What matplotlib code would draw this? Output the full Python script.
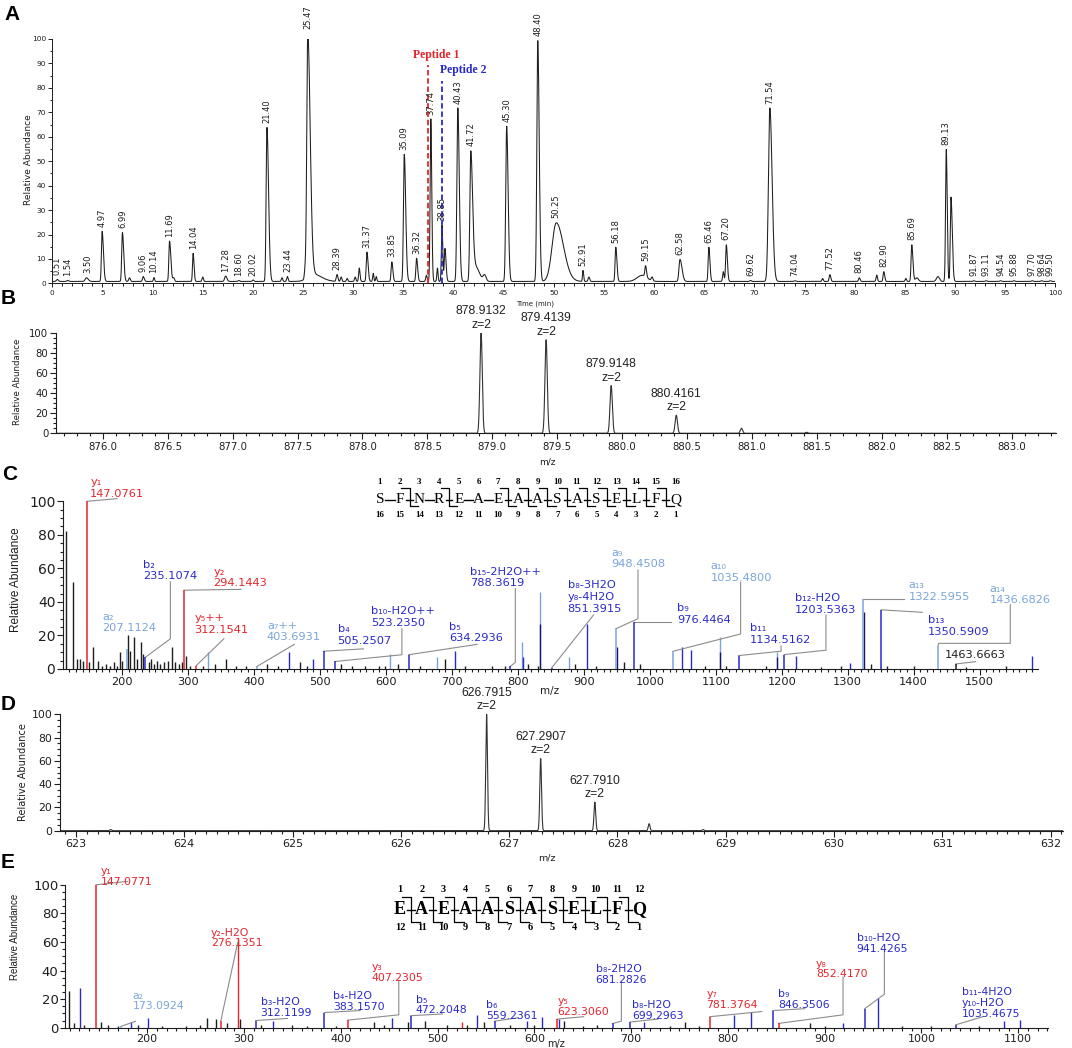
import numpy as np
import matplotlib
matplotlib.use("Agg")
import matplotlib.pyplot as plt
from matplotlib.ticker import MultipleLocator, FormatStrFormatter

plt.rcParams['font.family'] = ['DejaVu Sans']

W, H = 1072, 1048
fig = plt.figure(figsize=(W / 100, H / 100), dpi=100)

SANS = ['DejaVu Sans']
ARIAL = ['Liberation Sans', 'DejaVu Sans']
NARROW = ['Liberation Sans Narrow', 'Liberation Sans', 'DejaVu Sans']
SERIF = ['Liberation Serif', 'DejaVu Serif']

RED = '#e3262c'
BLUE = '#2a2acb'
LBLUE = '#7ba4dc'
NAVY = '#16166e'
GREY = '#8c8c8c'
INK = '#1e1e1e'
KIND_COLOR = {'k': INK, 'b': BLUE, 'a': LBLUE, 'n': NAVY, 'r': RED}

# ---------------- panel A: base peak chromatogram (peak table)
rt_apex = [0.51, 1.54, 3.40, 4.97, 6.99, 7.70, 9.06, 10.14, 11.69, 12.10,
           14.04, 15.00, 17.28, 18.60, 20.02, 21.40, 22.90, 23.44, 25.20, 25.47,
           28.39, 28.80, 29.40, 30.20, 30.60, 31.37, 32.00, 32.30, 33.85, 35.09,
           36.32, 37.30, 37.74, 38.40, 38.85, 39.15, 40.43, 41.72, 42.20, 43.10,
           45.30, 48.40, 50.25, 52.91, 53.50, 56.18, 58.80, 59.15, 59.80, 62.58,
           65.46, 66.90, 67.20, 69.62, 71.54, 74.04, 76.80, 77.52, 80.46, 82.20,
           82.90, 85.10, 85.69, 86.20, 88.30, 89.13, 89.60, 91.87, 93.11, 94.54,
           95.88, 97.70, 98.64, 99.50, 26.00]
rt_height = [0.8, 0.4, 1.5, 20.5, 20.0, 1.5, 2.0, 1.6, 16.5, 1.5,
             11.5, 1.8, 2.2, 0.4, 0.6, 63.0, 1.5, 2.0, 3.5, 99.5,
             2.8, 1.8, 1.2, 1.8, 5.5, 12.0, 3.3, 2.0, 8.0, 52.0,
             9.5, 2.5, 66.5, 5.5, 23.0, 13.5, 71.0, 52.5, 6.0, 2.5,
             63.5, 98.5, 24.0, 4.5, 1.8, 14.0, 2.5, 4.5, 1.5, 9.0,
             14.0, 4.0, 15.0, 0.4, 71.0, 0.3, 1.2, 2.8, 1.5, 2.6,
             4.0, 1.2, 15.0, 1.5, 2.0, 54.0, 34.5, 0.3, 0.3, 0.3,
             0.3, 0.3, 0.3, 0.3, 3.0]
rt_sigma = [0.10, 0.10, 0.12, 0.07, 0.07, 0.08, 0.07, 0.06, 0.07, 0.08,
            0.06, 0.07, 0.10, 0.08, 0.08, 0.08, 0.07, 0.07, 0.07, 0.10,
            0.08, 0.07, 0.07, 0.07, 0.06, 0.07, 0.06, 0.06, 0.07, 0.08,
            0.07, 0.07, 0.07, 0.06, 0.06, 0.07, 0.09, 0.09, 0.25, 0.15,
            0.09, 0.09, 0.42, 0.05, 0.08, 0.07, 0.50, 0.07, 0.08, 0.10,
            0.07, 0.07, 0.07, 0.08, 0.14, 0.08, 0.07, 0.07, 0.07, 0.07,
            0.07, 0.07, 0.07, 0.15, 0.15, 0.07, 0.07, 0.08, 0.08, 0.08,
            0.08, 0.08, 0.08, 0.08, 0.55]
rt_tail = [1, 1, 1.5, 1.8, 1.8, 1, 1.5, 1, 1.8, 1,
           1.5, 1, 1.3, 1, 1, 2.0, 1, 1, 1, 2.4,
           1, 1, 1, 1, 1.3, 1.6, 1, 1, 1.5, 1.8,
           1.5, 1, 1.3, 1, 1.3, 1.5, 1.6, 2.0, 1.5, 1,
           1.6, 1.6, 1.7, 1.3, 1, 1.6, 1, 1.3, 1, 2.0,
           1.5, 1, 1.5, 1, 1.6, 1, 1, 1.3, 1.2, 1,
           1.3, 1, 1.6, 1, 1, 1.3, 1.8, 1, 1, 1,
           1, 1, 1, 1, 1.5]
rt_baseline = 0.8
rt_labelled = [0.51, 1.54, 3.50, 4.97, 6.99, 9.06, 10.14, 11.69, 14.04, 17.28,
               18.60, 20.02, 21.40, 23.44, 25.47, 28.39, 31.37, 33.85, 35.09, 36.32,
               37.74, 38.85, 40.43, 41.72, 45.30, 48.40, 50.25, 52.91, 56.18, 59.15,
               62.58, 65.46, 67.20, 69.62, 71.54, 74.04, 77.52, 80.46, 82.90, 85.69,
               89.13, 91.87, 93.11, 94.54, 95.88, 97.70, 98.64, 99.50]
peptide_rt = [37.45, 38.87]
peptide_top = [89.2, 82.9]
peptide_names = ['Peptide 1', 'Peptide 2']

# ---------------- panel B / D: precursor isotope envelopes
B_mz = [878.9132, 879.4139, 879.9148, 880.4161, 880.918, 881.420]
B_int = [100, 93, 47.5, 18, 5, 1]
B_charge = [2, 2, 2, 2, None, None]
D_mz = [623.32, 626.7915, 627.2907, 627.7910, 628.292, 628.79]
D_int = [1, 100, 62, 24.5, 6, 1]
D_charge = [None, 2, 2, 2, None, None]

# ---------------- panel C: MS/MS of peptide 1
C_seq = "SFNREAEAASASELFQ"
C_cleaved = [2, 4, 7, 8, 9, 10, 11, 12, 13, 14, 15]
C_ion_mz = [147.0761, 207.1124, 235.1074, 294.1443, 312.1541, 403.6931, 505.2507,
            523.2350, 634.2936, 788.3619, 851.3915, 948.4508, 976.4464, 1035.4800,
            1134.5162, 1203.5363, 1322.5955, 1350.5909, 1436.6826, 1463.6663]
C_ion_int = [100, 12, 7, 47, 2, 1.4, 10.6, 4.5, 8.5, 1.5, 0.8, 24, 28, 10.6,
             8, 8.6, 42, 35.3, 13.7, 3]
C_ion_name = ['y₁', 'a₂', 'b₂', 'y₂', 'y₅++', 'a₇++', 'b₄', 'b₁₀-H2O++', 'b₅',
              'b₁₅-2H2O++', 'b₈-3H2O\ny₈-4H2O', 'a₉', 'b₉', 'a₁₀', 'b₁₁',
              'b₁₂-H2O', 'a₁₃', 'b₁₃', 'a₁₄', '']
C_peak_mz = [115, 125, 131, 136, 141, 149, 156, 164, 170, 176, 181, 187, 192, 196,
             200, 208, 212, 218, 222, 228, 232, 240, 244, 248, 252, 258, 264, 270,
             276, 280, 286, 290, 297, 302, 322, 340, 357, 372, 388, 420, 436, 470,
             480, 531, 548, 568, 590, 598, 618, 652, 689, 720, 760, 780, 815, 830,
             887, 918, 961, 985, 1083, 1115, 1176, 1260, 1290, 1335, 1360, 1400,
             1480, 1540,
             330, 606, 677, 806, 834, 877, 1106, 1193,
             453, 489, 705, 808, 905, 1048, 1063, 1222, 1304, 1580,
             834, 950, 1106, 1324, 1193]
C_peak_int = [82, 52, 6, 6, 5, 4, 13, 5, 2, 3, 2, 4, 2, 10,
              5, 20, 11, 19, 6, 16, 9, 4, 6, 3, 5, 3, 4, 5,
              13, 4, 3, 4, 8, 2, 2, 3, 6, 2, 2, 3, 2, 4,
              2, 3, 2, 2, 2, 2, 3, 1.5, 6, 1.5, 1.5, 2, 3, 2,
              3, 1.5, 4, 3, 2, 2, 2, 1, 2, 3, 2, 1.5,
              1, 1.5,
              10, 9, 7, 16, 46, 7, 19, 10,
              10, 6, 11, 7, 27, 13, 11.5, 8, 3.5, 8,
              27, 13, 10, 34, 7]
C_peak_kind = ['k'] * 70 + ['a'] * 8 + ['b'] * 10 + ['n'] * 5

# ---------------- panel E: MS/MS of peptide 2
E_seq = "EAEAASASELFQ"
E_cleaved = [1, 2, 3, 4, 5, 6, 7, 8, 9, 10, 11]
E_ion_mz = [147.0771, 173.0924, 276.1351, 312.1199, 383.1570, 407.2305, 472.2048,
            559.2361, 623.3060, 681.2826, 699.2963, 781.3764, 846.3506, 852.4170,
            941.4265, 1035.4675]
E_ion_int = [100, 1, 5, 5, 10.6, 5.3, 8.4, 4.6, 6, 3, 4, 7.7, 12, 3, 13.3, 2]
E_ion_name = ['y₁', 'a₂', 'y₂-H2O', 'b₃-H2O', 'b₄-H2O', 'y₃', 'b₅', 'b₆', 'y₅',
              'b₈-2H2O', 'b₈-H2O', 'y₇', 'b₉', 'y₈', 'b₁₀-H2O', 'b₁₁-4H2O\ny₁₀-H2O']
E_peak_mz = [119, 124, 135, 152, 160, 170, 190, 215, 240, 255, 261.5, 271, 282, 296,
             318, 350, 365, 395, 434, 445, 470, 487.5, 510, 530, 548, 575, 600,
             630.6, 650, 665, 740, 755.6, 770, 885, 900, 980, 1010, 1060,
             130.5, 183, 201, 330, 453, 541, 592.5, 608, 626, 713, 806, 824, 919,
             955.6, 1085, 1102,
             294.14, 525]
E_peak_int = [26, 3, 2, 4, 2, 1.5, 2, 1.5, 1.5, 2, 6.5, 6, 3, 6,
              2, 2, 1.5, 1.5, 4, 2, 4, 4.6, 2, 2, 4, 2, 2,
              4.6, 1.5, 2, 1.5, 4, 1.5, 3, 1.5, 1.5, 1.5, 1.5,
              28, 4, 7, 5, 7, 9, 4.6, 7.7, 6, 4, 9, 11.3, 3.4,
              21, 4.6, 5.3,
              62, 4]
E_peak_kind = ['k'] * 38 + ['b'] * 16 + ['r'] * 2

# ---------------- label layout (positions in data units of each panel)
C_label_xy = [(151.5, 111), (170.3, 31), (231.4, 62), (338.4, 57.8), (309.7, 30),
              (419.4, 25.6), (526.4, 23.5), (577.6, 34.2), (696, 25), (727.5, 57.8),
              (875.4, 49.6), (942, 69), (1041.5, 35.9), (1092, 61), (1152, 24),
              (1220, 41.8), (1392, 49.6), (1421, 29), (1515, 47.6), (1447, 8.1)]
C_leader = [[(192, 101.6)], [], [(273, 18), (273, 52)], [(380, 47.5)], [(354, 18)],
            [(461, 14.7)], [(565.6, 12)], [(624, 8.5), (624, 24)], [(738, 14.7)],
            [(796, 4), (796, 48)], [(914.6, 32.2)], [(982, 30), (982, 59)],
            [(1032, 28)], [(1137.6, 20.9), (1137.6, 51.7)], [(1199, 10.6), (1199, 13.7)],
            [(1267, 11.2), (1267, 32.2)], [(1384.6, 42)], [(1413, 33.8)],
            [(1438, 15.3), (1546.5, 15.3), (1546.5, 38.3)], [(1494, 4.4)]]
E_label_xy = [(152, 110), (185, 22.6), (265.7, 66.7), (317.3, 17.8), (392.4, 22),
              (431.6, 42.6), (477.5, 19.8), (550.4, 16), (624, 18.5), (663.4, 41.4),
              (701, 16), (777.7, 23.4), (852, 23.8), (891, 45), (933, 63), (1042, 25)]
E_leader = [[(180, 102.4)], [(188, 4.5)], [(293.5, 59.5)], [(345, 6.5)], [(420, 12)],
            [(460, 9), (460, 33)], [(505, 9.6)], [(583.5, 7)], [(651, 7.7)],
            [(690, 4.6), (690, 31.8)], [(727.7, 6)], [(835, 11.3)], [(879.5, 13.3)],
            [(919, 9), (919, 35.4)], [(961.7, 23.4), (961.7, 53.5)], [(1063.5, 7.7)]]


def px_axes(left, top, right, bottom):
    return fig.add_axes([left / W, 1 - bottom / H, (right - left) / W, (bottom - top) / H])


def dress(ax, xmaj, xmin, ymaj, ymin, fx, fy, lw=0.8, maj=4, mnr=2.2, xpad=2):
    for side in ('top', 'right'):
        ax.spines[side].set_visible(False)
    for side in ('left', 'bottom'):
        ax.spines[side].set_linewidth(lw)
        ax.spines[side].set_color(INK)
    ax.xaxis.set_major_locator(MultipleLocator(xmaj))
    ax.xaxis.set_minor_locator(MultipleLocator(xmin))
    ax.yaxis.set_major_locator(MultipleLocator(ymaj))
    ax.yaxis.set_minor_locator(MultipleLocator(ymin))
    ax.tick_params(which='both', direction='out', width=lw, color=INK, labelcolor=INK)
    ax.tick_params(which='major', length=maj)
    ax.tick_params(which='minor', length=mnr)
    ax.tick_params(axis='x', labelsize=fx, pad=xpad)
    ax.tick_params(axis='y', labelsize=fy, pad=1.5)
    ax.patch.set_alpha(0)


# ---- A
axA = px_axes(52.3, 39, 1055.3, 283.4)
t = np.linspace(0, 100, 20001)
trace = np.full_like(t, rt_baseline)
for rt, h, s, k in zip(rt_apex, rt_height, rt_sigma, rt_tail):
    sd = np.where(t < rt, s, s * k)
    trace += h * np.exp(-0.5 * ((t - rt) / sd) ** 2)
axA.plot(t, trace, color=INK, lw=0.75)
for rt in rt_labelled:
    top = trace[(t > rt - 0.15) & (t < rt + 0.15)].max()
    axA.text(rt, top + 1.8, f"{rt:.2f}", rotation=90, ha='center', va='bottom',
             fontsize=6, color=INK, clip_on=False)
for rt, top, c in zip(peptide_rt, peptide_top, [RED, BLUE]):
    axA.plot([rt, rt], [0, top], color=c, lw=1.3, ls=(0, (3, 1.6)))
axA.text(38.3, 93.5, peptide_names[0], color=RED, ha='center', va='center',
         family=SERIF, weight='bold', fontsize=8.5)
axA.text(41.0, 87.4, peptide_names[1], color=BLUE, ha='center', va='center',
         family=SERIF, weight='bold', fontsize=8.5)
axA.set_xlim(0, 100)
axA.set_ylim(0, 100)
dress(axA, 5, 1, 10, 5, 5.3, 5.3, lw=0.7, maj=3, mnr=1.8)


# ---- B and D
def isotope_panel(ax, mz, inten, charge, xlim, sigma):
    x = np.linspace(xlim[0], xlim[1], 30000)
    y = np.zeros_like(x)
    for m, h in zip(mz, inten):
        y += h * np.exp(-0.5 * ((x - m) / sigma) ** 2)
    ax.plot(x, y, color='#333333', lw=0.8)
    for m, h, z in zip(mz, inten, charge):
        if z:
            ax.text(m, h + 2, f"{m:.4f}\nz={z}", ha='center', va='bottom', fontsize=8.8,
                    family=ARIAL, linespacing=1.15, color='#222222', clip_on=False)
    ax.set_xlim(*xlim)
    ax.set_ylim(0, 100)


axB = px_axes(56, 332.7, 1056, 433.3)
isotope_panel(axB, B_mz, B_int, B_charge, (875.64, 883.34), 0.009)
dress(axB, 0.5, 0.1, 20, 5, 7.3, 7.3)
axB.xaxis.set_major_formatter(FormatStrFormatter('%.1f'))

axD = px_axes(60, 714.3, 1063, 830.7)
isotope_panel(axD, D_mz, D_int, D_charge, (622.852, 632.114), 0.008)
dress(axD, 1, 0.1, 20, 5, 8, 7.8)


# ---- C and E
def msms_panel(ax, peak_mz, peak_int, peak_kind, ion_mz, ion_int, ion_name,
               label_xy, leaders, step, fs, spacing):
    ax.vlines(peak_mz, 0, peak_int, colors=[KIND_COLOR[k] for k in peak_kind], lw=1.0)
    ion_col = [{'y': RED, 'b': BLUE, 'a': LBLUE}.get(n[:1], INK) for n in ion_name]
    ax.vlines(ion_mz, 0, ion_int, colors=ion_col, lw=1.1, zorder=3)
    for m, h, nm, c, (lx, ly), path in zip(ion_mz, ion_int, ion_name, ion_col,
                                            label_xy, leaders):
        if path:
            xs, ys = zip(*([(m, h)] + path))
            ax.plot(xs, ys, color=GREY, lw=0.8, clip_on=False, zorder=2)
        lines = (nm.split('\n') if nm else []) + [f"{m:.4f}"]
        ax.text(lx, ly + 0.5 * step, '\n'.join(lines), color=c, fontsize=fs, ha='left',
                va='top', linespacing=spacing, clip_on=False)


axC = px_axes(63, 501.3, 1038, 669)
msms_panel(axC, C_peak_mz, C_peak_int, C_peak_kind, C_ion_mz, C_ion_int, C_ion_name,
           C_label_xy, C_leader, 6.5, 8.2, 1.2)
axC.set_xlim(110.2, 1588.5)
axC.set_ylim(0, 100)
dress(axC, 100, 10, 20, 5, 8.2, 10)

axE = px_axes(65.4, 884.8, 1048, 1027.7)
msms_panel(axE, E_peak_mz, E_peak_int, E_peak_kind, E_ion_mz, E_ion_int, E_ion_name,
           E_label_xy, E_leader, 6.7, 7.8, 1.1)
axE.set_xlim(115.5, 1130.8)
axE.set_ylim(0, 100)
dress(axE, 100, 10, 20, 5, 8, 9.5, maj=3.5, mnr=2, xpad=1)

# ---------------- overlay in pixel units: panel letters, axis titles, sequences
ov = fig.add_axes([0, 0, 1, 1], zorder=10)
ov.set_xlim(0, W)
ov.set_ylim(H, 0)
ov.axis('off')

for letter, (x, y) in zip("ABCDE", [(12, 14), (8, 299), (10, 474), (8, 704), (8, 862)]):
    ov.text(x, y, letter, fontsize=15, weight='bold', family=ARIAL, ha='center', va='center')

for x, y, fs, fam in [(29, 160, 6.5, SANS), (18, 382, 6.2, SANS), (16.5, 580, 8.5, NARROW),
                      (22.7, 772, 7.0, SANS), (15.5, 937, 7.0, NARROW)]:
    ov.text(x, y, 'Relative Abundance', rotation=90, fontsize=fs, family=fam,
            ha='center', va='center', color=INK)
for x, y, fs in [(547, 462, 6.5), (550, 691, 7.5), (547, 858, 6.8), (556, 1044, 7)]:
    ov.text(x, y, 'm/z', fontsize=fs, ha='center', va='center', color=INK)
ov.text(535, 304, 'Time (min)', fontsize=5, ha='center', va='center', color=INK)


def draw_sequence(seq, cleaved, x0, dx, y_mid, y_num_top, y_num_bot, y_hook_top,
                  y_hook_bot, fs_aa, fs_num, bold):
    n = len(seq)
    for i, aa in enumerate(seq):
        x = x0 + i * dx
        ov.text(x, y_mid, aa, family=SERIF, fontsize=fs_aa, ha='center', va='center',
                weight='bold' if bold else 'normal')
        ov.text(x, y_num_top, str(i + 1), family=SERIF, fontsize=fs_num, ha='center',
                va='center', weight='bold')
        ov.text(x, y_num_bot, str(n - i), family=SERIF, fontsize=fs_num, ha='center',
                va='center', weight='bold')
    for k in range(1, n):
        xs = x0 + (k - 0.5) * dx
        half = dx * (0.17 if k in cleaved else 0.24)
        ov.plot([xs - half, xs + half], [y_mid, y_mid], color='black', lw=1.0)
        if k in cleaved:
            ov.plot([xs - dx * 0.42, xs, xs, xs + dx * 0.42],
                    [y_hook_top, y_hook_top, y_hook_bot, y_hook_bot], color='black', lw=0.9)


draw_sequence(C_seq, C_cleaved, 380, 19.7, 499.5, 481.5, 515, 488, 505.5, 11, 6.5, False)
draw_sequence(E_seq, E_cleaved, 400, 21.75, 910, 890, 927, 897, 922, 13, 7.5, True)

fig.savefig('out.png', dpi=100)
